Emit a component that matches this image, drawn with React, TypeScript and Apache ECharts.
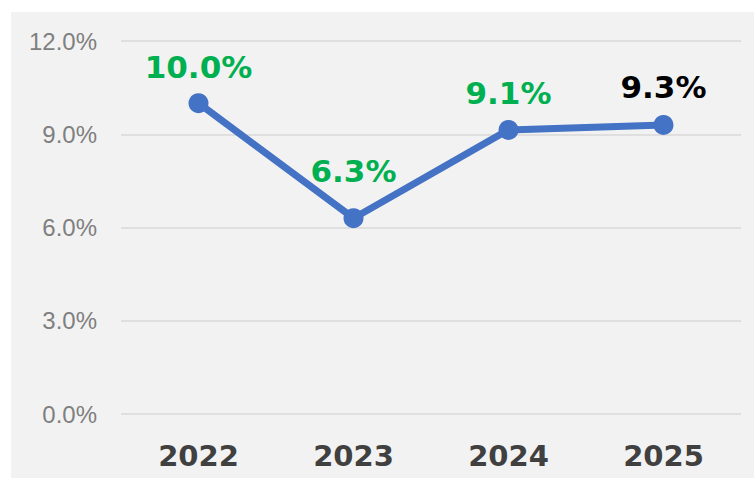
import React, { useEffect, useRef } from "react";
import * as echarts from "echarts";

const categories = ["2022", "2023", "2024", "2025"];
const values = [10.0, 6.3, 9.14, 9.3];
const labelColors = ["#00B050", "#00B050", "#00B050", "#000000"];
const labelDistances = [11, 22, 11, 12];
const yTicks = { min: 0, max: 12, interval: 3 };

export default function App() {
  const ref = useRef<HTMLDivElement>(null);
  useEffect(() => {
    if (!ref.current) return;
    const chart = echarts.init(ref.current, null, { renderer: "svg" });
    chart.setOption({
      animation: false,
      backgroundColor: "#F2F2F2",
      grid: { left: 110, right: 13, top: 29, bottom: 64, containLabel: false },
      xAxis: {
        type: "category",
        data: categories,
        boundaryGap: true,
        axisLine: { show: false },
        axisTick: { show: false },
        axisLabel: {
          margin: 27,
          color: "#404040",
          fontFamily: "DejaVu Sans",
          fontWeight: "bold",
          fontSize: 29,
        },
      },
      yAxis: {
        type: "value",
        min: yTicks.min,
        max: yTicks.max,
        interval: yTicks.interval,
        axisLine: { show: false },
        axisTick: { show: false },
        splitLine: { lineStyle: { color: "#D9D9D9", width: 1.5 } },
        axisLabel: {
          margin: 24,
          color: "#7F7F7F",
          fontFamily: "Liberation Sans",
          fontSize: 24,
          formatter: (v: number) => v.toFixed(1) + "%",
        },
      },
      series: [
        {
          type: "line",
          data: values.map((v, i) => ({
            value: v,
            label: { color: labelColors[i], distance: labelDistances[i] },
          })),
          symbol: "circle",
          symbolSize: 20,
          lineStyle: { color: "#4472C4", width: 7 },
          itemStyle: { color: "#4472C4" },
          label: {
            show: true,
            position: "top",
            fontFamily: "DejaVu Sans",
            fontWeight: "bold",
            fontSize: 31,
            formatter: (p: any) => p.value.toFixed(1) + "%",
          },
        },
      ],
    });
    return () => chart.dispose();
  }, []);
  return (
    <div style={{ position: "absolute", left: 0, top: 0, width: 754, height: 479, background: "#fff" }}>
      <div ref={ref} style={{ position: "absolute", left: 11, top: 12, width: 743, height: 466 }} />
    </div>
  );
}
